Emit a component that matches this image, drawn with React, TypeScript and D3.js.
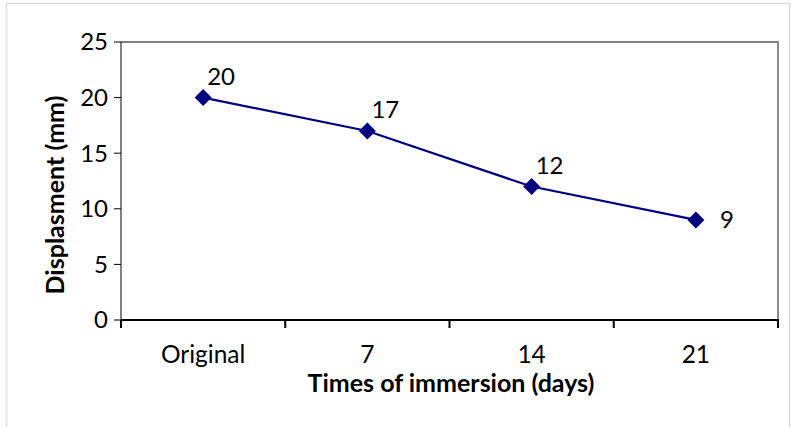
import React from "react";
import * as d3 from "d3";

const categories: string[] = ["Original", "7", "14", "21"];
const displacement: number[] = [20, 17, 12, 9];
const yTicks: number[] = [0, 5, 10, 15, 20, 25];

const W = 792;
const H = 427;
const M = { left: 121, right: 778, top: 42, bottom: 320 };
const FONT = "Lato, 'Open Sans', sans-serif";
const NAVY = "#000080";

export default function App() {
  const x = d3.scaleBand<string>().domain(categories).range([M.left, M.right]).padding(0);
  const y = d3.scaleLinear().domain([0, 25]).range([M.bottom, M.top]);
  const cx = (c: string) => (x(c) as number) + x.bandwidth() / 2;
  const line = d3
    .line<number>()
    .x((_, i) => cx(categories[i]))
    .y((d) => y(d));
  const boundaries = [...categories.map((c) => x(c) as number), M.right];
  const diamond = d3.symbol(d3.symbolDiamond2, 185)();

  return (
    <svg
      width={W}
      height={H}
      style={{ position: "absolute", left: 0, top: 0, background: "#fff" }}
      fontFamily={FONT}
    >
      <rect x={6.5} y={3.5} width={783} height={440} fill="#fff" stroke="#dcdcdc" strokeWidth={1.5} />
      <path
        d={`M${M.left},${M.top}H${M.right}V${M.bottom}`}
        fill="none"
        stroke="#808080"
        strokeWidth={1.8}
      />
      <line x1={M.left} x2={M.left} y1={M.top} y2={M.bottom} stroke="#000" strokeWidth={1} />
      {yTicks.map((t) => (
        <g key={t}>
          <line x1={M.left - 7} x2={M.left} y1={y(t)} y2={y(t)} stroke="#000" strokeWidth={1} />
          <text x={108} y={y(t)} dy="0.35em" textAnchor="end" fontSize={24} fill="#000">
            {t}
          </text>
        </g>
      ))}
      <line x1={M.left} x2={M.right + 1} y1={M.bottom} y2={M.bottom} stroke="#000" strokeWidth={2.2} />
      {boundaries.map((b, i) => (
        <line key={i} x1={b} x2={b} y1={M.bottom} y2={M.bottom + 8} stroke="#000" strokeWidth={2} />
      ))}
      {categories.map((c) => (
        <text key={c} x={cx(c)} y={363} textAnchor="middle" fontSize={24.5} fill="#000">
          {c}
        </text>
      ))}
      <text x={451} y={392} textAnchor="middle" fontSize={25} fontWeight="bold" fill="#000">
        Times of immersion (days)
      </text>
      <text
        transform={`translate(64,195) rotate(-90)`}
        textAnchor="middle"
        fontSize={25}
        fontWeight="bold"
        fill="#000"
      >
        Displasment (mm)
      </text>
      <path d={line(displacement) ?? ""} fill="none" stroke={NAVY} strokeWidth={2.2} />
      {displacement.map((v, i) => (
        <path key={i} d={diamond ?? ""} transform={`translate(${cx(categories[i])},${y(v)})`} fill={NAVY} />
      ))}
      {displacement.map((v, i) => {
        const last = i === displacement.length - 1;
        return (
          <text
            key={i}
            x={cx(categories[i]) + (last ? 24 : 4)}
            y={y(v) + (last ? 8 : -13)}
            fontSize={24}
            fill="#000"
          >
            {v}
          </text>
        );
      })}
    </svg>
  );
}
